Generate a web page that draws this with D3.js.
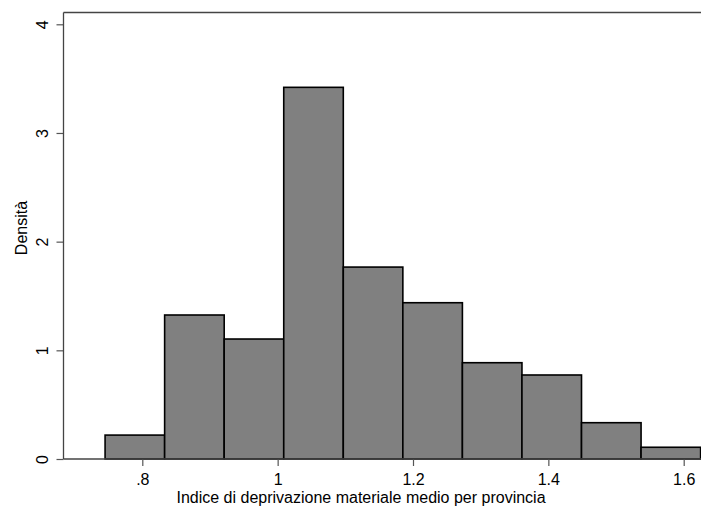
<!DOCTYPE html>
<html>
<head>
<meta charset="utf-8">
<script src="https://cdn.jsdelivr.net/npm/d3@7"></script>
<style>
  body { margin: 0; background: #fff; }
  text { font-family: "Liberation Sans", Arial, sans-serif; fill: #000; }
</style>
</head>
<body>
<div id="chart"></div>
<script>
// valori
const binEdges = [0.745, 0.833, 0.921, 1.009, 1.097, 1.185, 1.273, 1.361, 1.449, 1.537, 1.625];
const densita = [0.22, 1.325, 1.104, 3.42, 1.766, 1.438, 0.886, 0.773, 0.334, 0.108];
const xTicks = [0.8, 1, 1.2, 1.4, 1.6];
const xTickLabels = [".8", "1", "1.2", "1.4", "1.6"];
const yTicks = [0, 1, 2, 3, 4];

const W = 701, H = 512;
const plotLeft = 63.5, plotTop = 12.5, plotBottom = 459;

const svg = d3.select("#chart").append("svg")
  .attr("width", W).attr("height", H);

const x = d3.scaleLinear().domain([0.8, 1.6]).range([142.3, 683.7]);
const y = d3.scaleLinear().domain([0, 4]).range([plotBottom, 24.3]);

const bins = densita.map((d, i) => ({ x0: binEdges[i], x1: binEdges[i + 1], v: d }));

// barre
svg.append("g").selectAll("rect")
  .data(bins)
  .enter()
  .append("rect")
  .attr("x", d => x(d.x0))
  .attr("y", d => y(d.v))
  .attr("width", d => x(d.x1) - x(d.x0))
  .attr("height", d => y(0) - y(d.v))
  .attr("fill", "#808080")
  .attr("stroke", "#000")
  .attr("stroke-width", 1.6);

// bordo superiore
svg.append("line")
  .attr("x1", plotLeft).attr("x2", W)
  .attr("y1", plotTop).attr("y2", plotTop)
  .attr("stroke", "#444").attr("stroke-width", 1.3);

// asse y
const yAxis = svg.append("g")
  .attr("transform", `translate(${plotLeft},0)`)
  .call(d3.axisLeft(y).tickValues(yTicks).tickFormat(d3.format("d")).tickSize(7).tickPadding(9));
yAxis.select(".domain").remove();
yAxis.selectAll(".tick line").attr("stroke", "#555").attr("stroke-width", 1.2);
yAxis.selectAll(".tick text")
  .attr("font-size", 16)
  .attr("font-family", "Liberation Sans, Arial, sans-serif")
  .attr("text-anchor", "middle")
  .attr("dy", null)
  .attr("x", null)
  .attr("transform", "translate(-16,0) rotate(-90)");
svg.append("line")
  .attr("x1", plotLeft).attr("x2", plotLeft)
  .attr("y1", plotTop).attr("y2", plotBottom)
  .attr("stroke", "#444").attr("stroke-width", 1.3);

// asse x
const xAxis = svg.append("g")
  .attr("transform", `translate(0,${plotBottom})`)
  .call(d3.axisBottom(x).tickValues(xTicks).tickFormat((d, i) => xTickLabels[i]).tickSize(7).tickPadding(8));
xAxis.select(".domain").remove();
xAxis.selectAll(".tick line").attr("stroke", "#555").attr("stroke-width", 1.2);
xAxis.selectAll(".tick text")
  .attr("font-size", 16)
  .attr("font-family", "Liberation Sans, Arial, sans-serif");
svg.append("line")
  .attr("x1", plotLeft).attr("x2", W)
  .attr("y1", plotBottom).attr("y2", plotBottom)
  .attr("stroke", "#444").attr("stroke-width", 1.3);

// titoli
svg.append("text")
  .attr("x", 361).attr("y", 503)
  .attr("text-anchor", "middle")
  .attr("font-size", 16)
  .text("Indice di deprivazione materiale medio per provincia");

svg.append("text")
  .attr("transform", "translate(27,228) rotate(-90)")
  .attr("text-anchor", "middle")
  .attr("font-size", 16)
  .text("Densità");
</script>
</body>
</html>
